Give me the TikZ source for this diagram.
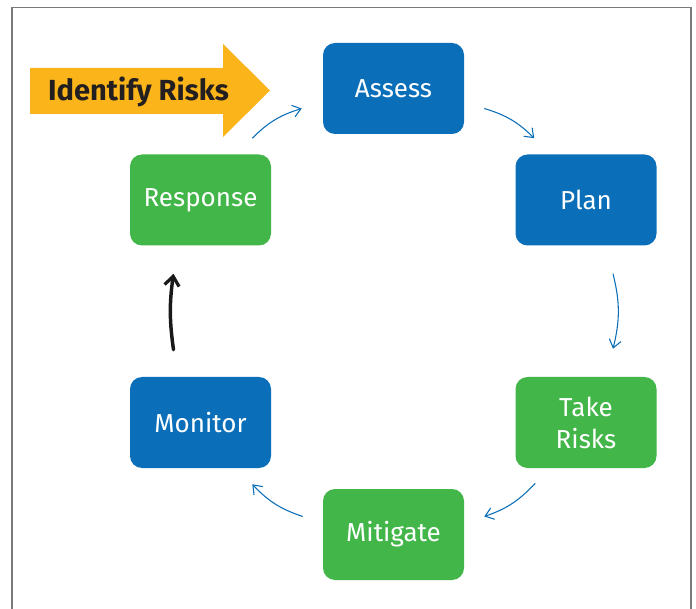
\documentclass[tikz,border=0pt]{standalone}
\usepackage{fontspec}
\setmainfont{Fira Sans}
\usetikzlibrary{arrows.meta,calc}
\definecolor{cblue}{HTML}{0A6FB8}
\definecolor{cgreen}{HTML}{43B649}
\definecolor{cyellow}{HTML}{FBB51A}
\definecolor{ctext}{HTML}{231F20}
\definecolor{cframe}{HTML}{7A7A7A}
\begin{document}
\begin{tikzpicture}[x=0.75pt,y=-0.75pt,
  stepbox/.style={rounded corners=9pt, minimum width=105.75pt, minimum height=68.25pt,
    text=white, font=\fontsize{19.5}{24}\selectfont, align=center, inner sep=0pt},
  bluebox/.style={stepbox, fill=cblue},
  greenbox/.style={stepbox, fill=cgreen},
  flow/.style={draw=cblue, line width=0.8pt, -{Straight Barb[length=6pt,width=9pt]}},
  backflow/.style={draw=black!90, line width=2.6pt, line cap=round, -{Straight Barb[length=7pt,width=11pt,line width=2.4pt]}}
]
\useasboundingbox (0,0) rectangle (696,609);
\fill[white] (0,0) rectangle (696,609);
% frame
\draw[cframe, line width=0.9pt] (12,640) -- (12,7.5) -- (691,7.5) -- (691,640);

% yellow arrow
\fill[cyellow] (30,68) -- (223,68) -- (223,44) -- (270,90.5) -- (223,137) -- (223,114) -- (30,114) -- cycle;
\node[text=ctext, font=\bfseries\fontsize{21.8}{24}\selectfont, anchor=center] (idrisk) at (138.5,92) {Identify Risks};

% step boxes
\node[bluebox]  (assess)   at (393.5,88.5)  {Assess};
\node[bluebox]  (plan)     at (586,200)     {Plan};
\node[greenbox] (take)     at (586,422.5)   {Take\\Risks};
\node[greenbox] (mitigate) at (393.5,534.5) {Mitigate};
\node[bluebox]  (monitor)  at (200.5,422.5) {Monitor};
\node[greenbox] (response) at (200.5,200)   {Response};

% connector ends
\coordinate (r1) at ($(response.north east)+(-19,-16)$);
\coordinate (a1) at ($(assess.west)+(-21,20)$);
\coordinate (a2) at ($(assess.east)+(20,20)$);
\coordinate (p1) at ($(plan.north west)+(19,-16)$);
\coordinate (p2) at ($(plan.south)+(27,28)$);
\coordinate (t1) at ($(take.north)+(27,-28)$);
\coordinate (t2) at ($(take.south west)+(20,15)$);
\coordinate (m1) at ($(mitigate.east)+(20,-18)$);
\coordinate (m2) at ($(mitigate.west)+(-20,-18)$);
\coordinate (o1) at ($(monitor.south east)+(-19,16)$);
\coordinate (o2) at ($(monitor.north)+(-27,-27)$);
\coordinate (s1) at ($(response.south)+(-27,28)$);

\draw[flow] (r1) to[bend left=14] (a1);
\draw[flow] (a2) to[bend left=14] (p1);
\draw[flow] (p2) to[bend left=14] (t1);
\draw[flow] (t2) to[bend left=14] (m1);
\draw[flow] (m2) to[bend left=14] (o1);
\draw[backflow] (o2) to[bend left=8] (s1);
\end{tikzpicture}
\end{document}
